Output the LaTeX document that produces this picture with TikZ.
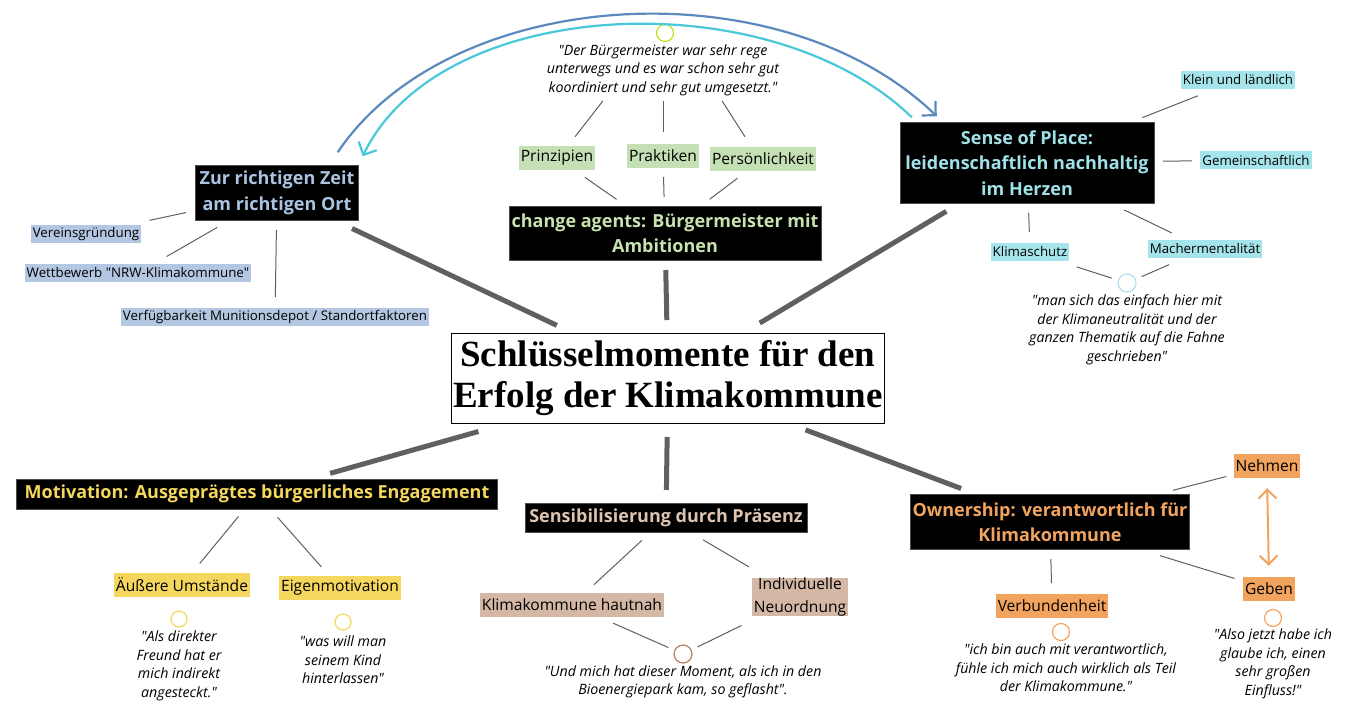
\documentclass[tikz,border=0pt]{standalone}
\usepackage{fontspec}
\setmainfont{Open Sans}
\newfontfamily\titlefont{Liberation Serif}
\usetikzlibrary{arrows.meta,calc}

\newcommand\qmark{\textquotedbl}

\definecolor{spokegray}{RGB}{96,96,96}
\definecolor{twiggray}{RGB}{95,95,95}
\definecolor{zurbg}{RGB}{180,199,226}
\definecolor{zurtxt}{RGB}{170,196,226}
\definecolor{agbg}{RGB}{197,224,180}
\definecolor{agtxt}{RGB}{200,226,176}
\definecolor{sensebg}{RGB}{166,228,236}
\definecolor{sensetxt}{RGB}{160,226,234}
\definecolor{motivbg}{RGB}{244,215,92}
\definecolor{praesbg}{RGB}{212,184,165}
\definecolor{praestxt}{RGB}{220,196,176}
\definecolor{ownbg}{RGB}{242,164,94}
\definecolor{limedot}{RGB}{181,230,29}
\definecolor{skydot}{RGB}{176,224,238}
\definecolor{browndot}{RGB}{184,128,92}
\definecolor{arcblue}{RGB}{91,137,190}
\definecolor{arccyan}{RGB}{72,200,216}

\begin{document}
\begin{tikzpicture}[
  x=1pt,y=-1pt,
  hub/.style={draw=black,fill=white,line width=0.8pt,minimum width=433pt,minimum height=90pt,
              inner sep=1pt,align=center,font=\titlefont\bfseries\fontsize{37}{41}\selectfont},
  branch/.style={draw=black!70,fill=black,align=center,inner sep=1pt,
                 font=\bfseries\fontsize{18}{25.5}\selectfont},
  tag/.style={inner xsep=2pt,inner ysep=0pt,minimum height=18pt,font=\fontsize{13.3}{16}\selectfont},
  bigtag/.style={tag,minimum height=24pt,align=center,font=\fontsize{15.6}{23}\selectfont},
  saying/.style={align=center,inner sep=0pt,font=\itshape\fontsize{14.2}{18.5}\selectfont},
  dot/.style={circle,draw,line width=1.2pt,minimum size=17pt,inner sep=0pt},
  spoke/.style={line width=5pt,draw=spokegray},
  twig/.style={line width=1pt,draw=twiggray},
  swing/.style={line width=2.2pt,-{Straight Barb[length=10pt,width=20pt]}},
]
\useasboundingbox (0,0) rectangle (1347,710);

\node[hub] (hub) at (668,378) {Schlüsselmomente für den\\Erfolg der Klimakommune};

% branches
\node[branch,text=zurtxt,minimum width=163pt,minimum height=55pt] (zur) at (277,193)
  {Zur richtigen Zeit\\am richtigen Ort};
\node[branch,text=agtxt,minimum width=312pt,minimum height=54pt] (agent) at (665,233)
  {change agents: Bürgermeister mit\\Ambitionen};
\node[branch,text=sensetxt,minimum width=254pt,minimum height=81pt] (sense) at (1027,163)
  {Sense of Place:\\leidenschaftlich nachhaltig\\im Herzen};
\node[branch,text=motivbg,minimum width=481pt,minimum height=30pt] (motiv) at (257,494)
  {Motivation: Ausgeprägtes bürgerliches Engagement};
\node[branch,text=praestxt,minimum width=282pt,minimum height=29pt] (praes) at (666,518)
  {Sensibilisierung durch Präsenz};
\node[branch,text=ownbg,minimum width=279pt,minimum height=55pt] (own) at (1050,522)
  {Ownership: verantwortlich für\\Klimakommune};

\draw[spoke,shorten <=123pt,shorten >=83pt] (hub.center) -- (zur.center);
\draw[spoke,shorten <=58pt,shorten >=37pt] (hub.center) -- (agent.center);
\draw[spoke,shorten <=107pt,shorten >=94pt] (hub.center) -- (sense.center);
\draw[spoke,shorten <=197pt,shorten >=76pt] (hub.center) -- (motiv.center);
\draw[spoke,shorten <=59pt,shorten >=28pt] (hub.center) -- (praes.center);
\draw[spoke,shorten <=147pt,shorten >=95pt] (hub.center) -- (own.center);

% Zur richtigen Zeit
\node[tag,fill=zurbg] (verein) at (86,234) {Vereinsgründung};
\node[tag,fill=zurbg] (wett) at (138,273) {Wettbewerb \qmark NRW-Klimakommune\qmark};
\node[tag,fill=zurbg] (depot) at (275,317) {Verfügbarkeit Munitionsdepot / Standortfaktoren};
\draw[twig,shorten <=65pt,shorten >=93pt] (verein.center) -- (zur.center);
\draw[twig,shorten <=33pt,shorten >=69pt] (wett.center) -- (zur.center);
\draw[twig,shorten <=20pt,shorten >=37pt] (depot.center) -- (zur.center);

% change agents
\node[bigtag,fill=agbg] (prin) at (557,158) {Prinzipien};
\node[bigtag,fill=agbg] (prak) at (663,156) {Praktiken};
\node[bigtag,fill=agbg] (pers) at (763,159) {Persönlichkeit};
\node[saying] (bmq) at (663,70) {\qmark Der Bürgermeister war sehr rege\\unterwegs und es war schon sehr gut\\koordiniert und sehr gut umgesetzt.\qmark};
\node[dot,draw=limedot] (bmdot) at (665,33) {};
\draw[twig,shorten <=34pt,shorten >=59pt] (prin.center) -- (agent.center);
\draw[twig,shorten <=21pt,shorten >=36pt] (prak.center) -- (agent.center);
\draw[twig,shorten <=32pt,shorten >=56pt] (pers.center) -- (agent.center);
\draw[twig] ($(prin.north)+(18,-9)$) -- ($(bmq.south)+(-60,5)$);
\draw[twig] ($(prak.north)+(0,-12)$) -- ($(bmq.south)+(0,5)$);
\draw[twig] ($(pers.north)+(-18,-10)$) -- ($(bmq.south)+(59,5)$);

% Sense of Place
\node[tag,fill=sensebg] (klein) at (1238,80) {Klein und ländlich};
\node[tag,fill=sensebg] (gemein) at (1256,160) {Gemeinschaftlich};
\node[tag,fill=sensebg] (klimas) at (1030,252) {Klimaschutz};
\node[tag,fill=sensebg] (macher) at (1205,249) {Machermentalität};
\node[dot,draw=skydot,minimum size=18pt] (sensedot) at (1127,283) {};
\node[saying] (senseq) at (1127,330) {\qmark man sich das einfach hier mit\\der Klimaneutralität und der\\ganzen Thematik auf die Fahne\\geschrieben\qmark};
\draw[twig,shorten <=43pt,shorten >=124pt] (klein.center) -- (sense.center);
\draw[twig,shorten <=64pt,shorten >=136pt] (gemein.center) -- (sense.center);
\draw[twig,shorten <=20pt,shorten >=50pt] (klimas.center) -- (sense.center);
\draw[twig,shorten <=37pt,shorten >=108pt] (macher.center) -- (sense.center);
\draw[twig,shorten <=49pt,shorten >=16pt] (klimas.center) -- (sensedot.center);
\draw[twig,shorten <=39pt,shorten >=16pt] (macher.center) -- (sensedot.center);

% Motivation
\node[bigtag,fill=motivbg] (aeuss) at (182,585) {Äußere Umstände};
\node[bigtag,fill=motivbg] (eigen) at (340,588) {Eigenmotivation};
\node[dot,draw=motivbg,minimum size=16pt] (aeussdot) at (179,619) {};
\node[dot,draw=motivbg,minimum size=16pt] (eigendot) at (343,622) {};
\node[saying] (aeussq) at (179,666) {\qmark Als direkter\\Freund hat er\\mich indirekt\\angesteckt.\qmark};
\node[saying] (eigenq) at (343,660) {\qmark was will man\\seinem Kind\\hinterlassen\qmark};
\draw[twig,shorten <=29pt,shorten >=28pt] (motiv.center) -- (aeuss.center);
\draw[twig,shorten <=31pt,shorten >=28pt] (motiv.center) -- (eigen.center);

% Sensibilisierung
\node[bigtag,fill=praesbg] (hautnah) at (572,605) {Klimakommune hautnah};
\node[bigtag,fill=praesbg] (indiv) at (800,597) {Individuelle\\Neuordnung};
\node[dot,draw=browndot,minimum size=18pt] (praesdot) at (683,654) {};
\node[saying] (praesq) at (683,682) {\qmark Und mich hat dieser Moment, als ich in den\\Bioenergiepark kam, so geflasht\qmark.};
\draw[twig,shorten <=33pt,shorten >=30pt] (praes.center) -- (hautnah.center);
\draw[twig,shorten <=43pt,shorten >=59pt] (praes.center) -- (indiv.center);
\draw[twig,shorten <=45pt,shorten >=16pt] (hautnah.center) -- (praesdot.center);
\draw[twig,shorten <=65pt,shorten >=16pt] (indiv.center) -- (praesdot.center);

% Ownership
\node[bigtag,fill=ownbg] (nehmen) at (1267,466) {Nehmen};
\node[bigtag,fill=ownbg] (geben) at (1269,589) {Geben};
\node[bigtag,fill=ownbg] (verb) at (1052,606) {Verbundenheit};
\node[dot,draw=ownbg] (verbdot) at (1061,632) {};
\node[dot,draw=ownbg] (gebendot) at (1273,618) {};
\node[saying] (verbq) at (1066,668) {\qmark ich bin auch mit verantwortlich,\\fühle ich mich auch wirklich als Teil\\der Klimakommune.\qmark};
\node[saying] (gebenq) at (1273,664) {\qmark Also jetzt habe ich\\glaube ich, einen\\sehr großen\\Einfluss!\qmark};
\draw[twig,shorten <=127pt,shorten >=42pt] (own.center) -- (nehmen.center);
\draw[twig,shorten <=115pt,shorten >=36pt] (own.center) -- (geben.center);
\draw[twig,shorten <=37pt,shorten >=23pt] (own.center) -- (verb.center);
\draw[line width=2pt,draw=ownbg,{Straight Barb[length=9pt,width=18pt]}-{Straight Barb[length=9pt,width=18pt]},
      shorten <=10pt,shorten >=11pt] (nehmen.south) -- (geben.north);

% arcs between Zeit/Ort and Sense of Place
\draw[swing,draw=arcblue] ($(zur.north east)+(-21,-13)$) .. controls (450,-15) and (780,-35) .. ($(sense.north west)+(37,-6)$);
\draw[swing,draw=arccyan] ($(sense.north west)+(12,-5)$) .. controls (770,-20) and (440,-5) .. ($(zur.north east)+(4,-9)$);
\end{tikzpicture}
\end{document}
